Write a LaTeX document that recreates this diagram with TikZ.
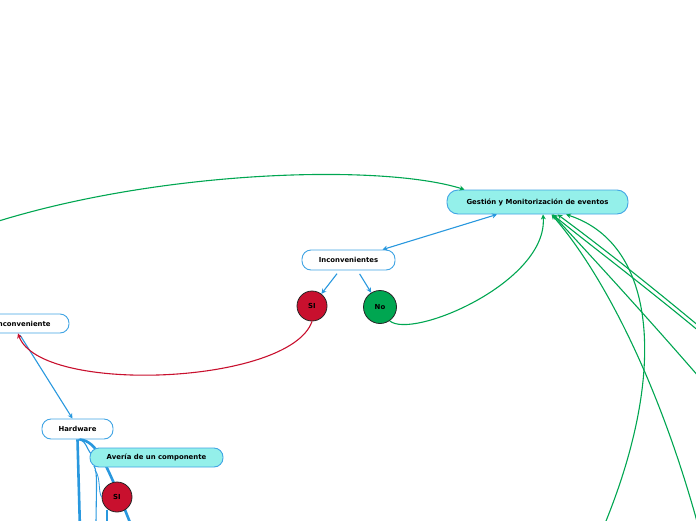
\documentclass[tikz,border=0pt]{standalone}
\usepackage{fontspec}
\setmainfont{DejaVu Sans}
\usetikzlibrary{arrows.meta}
\definecolor{cblue}{RGB}{41,152,222}
\definecolor{cborder}{RGB}{64,164,228}
\definecolor{ccyan}{RGB}{148,240,234}
\definecolor{cgreen}{RGB}{0,166,81}
\definecolor{cred}{RGB}{200,16,46}
\tikzset{
  topic/.style={draw=cborder, line width=0.9pt, font=\bfseries\fontsize{6.9}{8}\selectfont, inner sep=0pt, text=black},
  circ/.style={circle, draw=black!85, line width=0.8pt, font=\bfseries\fontsize{6.9}{8}\selectfont, inner sep=0pt, text=black},
  tip/.style={-{Stealth[length=5pt,width=5pt]}},
  bl/.style={draw=cblue, line width=1.1pt},
  gr/.style={draw=cgreen, line width=1.1pt},
  rd/.style={draw=cred, line width=1.1pt},
}
\begin{document}
\begin{tikzpicture}[x=1pt,y=-1pt]
\useasboundingbox (0,0) rectangle (696,520);
\clip (0,0) rectangle (696,520);

% nodes
\node[topic, fill=ccyan, minimum width=181pt, minimum height=24pt, rounded corners=11pt] (g) at (537.5,202) {Gestión y Monitorización de eventos};
\node[topic, fill=white, minimum width=93pt, minimum height=20pt, rounded corners=9pt] (inc) at (348.5,260) {Inconvenientes};
\node[circ, fill=cred, minimum size=30pt] (si) at (312,306) {SI};
\node[circ, fill=cgreen, minimum size=33pt] (no) at (380,307) {No};
\node[topic, fill=white, minimum width=92pt, minimum height=19pt, rounded corners=9pt] (inc2) at (23,323.5) {Inconveniente};
\node[topic, fill=white, minimum width=71pt, minimum height=20pt, rounded corners=9pt] (hw) at (77.5,429) {Hardware};

% off-canvas coordinates
\coordinate (oA) at (-20,227);
\coordinate (oB) at (712,342);
\coordinate (oC) at (712,337);
\coordinate (oD) at (712,392);
\coordinate (oE) at (702,540);
\coordinate (oF) at (598,540);
\coordinate (hA) at (80,530);
\coordinate (hB) at (133,530);
\coordinate (hC) at (96,530);
\coordinate (hD) at (107,510);
\coordinate (hE) at (107,530);

% hardware bottom connectors (behind Averia node)
\draw[bl, line width=2.6pt] (hw.south) -- (hA);
\draw[bl, line width=2.6pt] ([xshift=2pt]hw.south) .. controls (97,441) and (106,462) .. (hB);
\draw[bl, line width=1.1pt] ([xshift=1pt]hw.south) .. controls (88,441) and (86,452) .. (95,457);

\node[topic, fill=ccyan, minimum width=133pt, minimum height=19pt, rounded corners=9pt] (av) at (156.5,457.5) {Avería de un componente};
\node[circ, fill=cred, minimum size=30pt] (si2) at (117,497) {SI};

\draw[bl, line width=1.1pt] (94,466) .. controls (98,472) and (96,490) .. (hC);
\draw[bl, line width=0.8pt] (95,470) .. controls (101,478) and (98,492) .. (si2.west);
\draw[bl, line width=1.8pt] (hD) -- (hE);

% blue connectors
\draw[bl, {Stealth[length=5pt,width=5pt]}-{Stealth[length=5pt,width=5pt]}] (inc) -- (g);
\draw[bl, tip, shorten <=4pt] ([xshift=-9pt]inc.south) -- (si);
\draw[bl, tip, shorten <=4pt] ([xshift=9pt]inc.south) -- (no);
\draw[bl, tip, shorten <=2pt] ([xshift=-4pt]inc2.south) -- ([xshift=-5pt]hw.north);

% red connector
\draw[rd, tip] (si.south) .. controls (290,385) and (40,395) .. ([xshift=-5pt]inc2.south);

% green connectors
\draw[gr, tip] (no.-55) .. controls (412,340) and (548,282) .. ([xshift=5.5pt]g.south);
\draw[gr, tip] (oA) .. controls (150,170) and (380,163) .. ([xshift=-73pt]g.north);
\draw[gr, tip] (oB) .. controls (650,290) and (590,245) .. ([xshift=15pt]g.south);
\draw[gr, tip] (oC) .. controls (650,285) and (595,242) .. ([xshift=20pt]g.south);
\draw[gr, tip] (oD) .. controls (650,320) and (590,255) .. ([xshift=15pt]g.south);
\draw[gr, tip] (oE) .. controls (660,380) and (600,270) .. ([xshift=14pt]g.south);
\draw[gr, tip] (oF) .. controls (668,380) and (660,245) .. ([xshift=28.5pt]g.south);
\end{tikzpicture}
\end{document}
